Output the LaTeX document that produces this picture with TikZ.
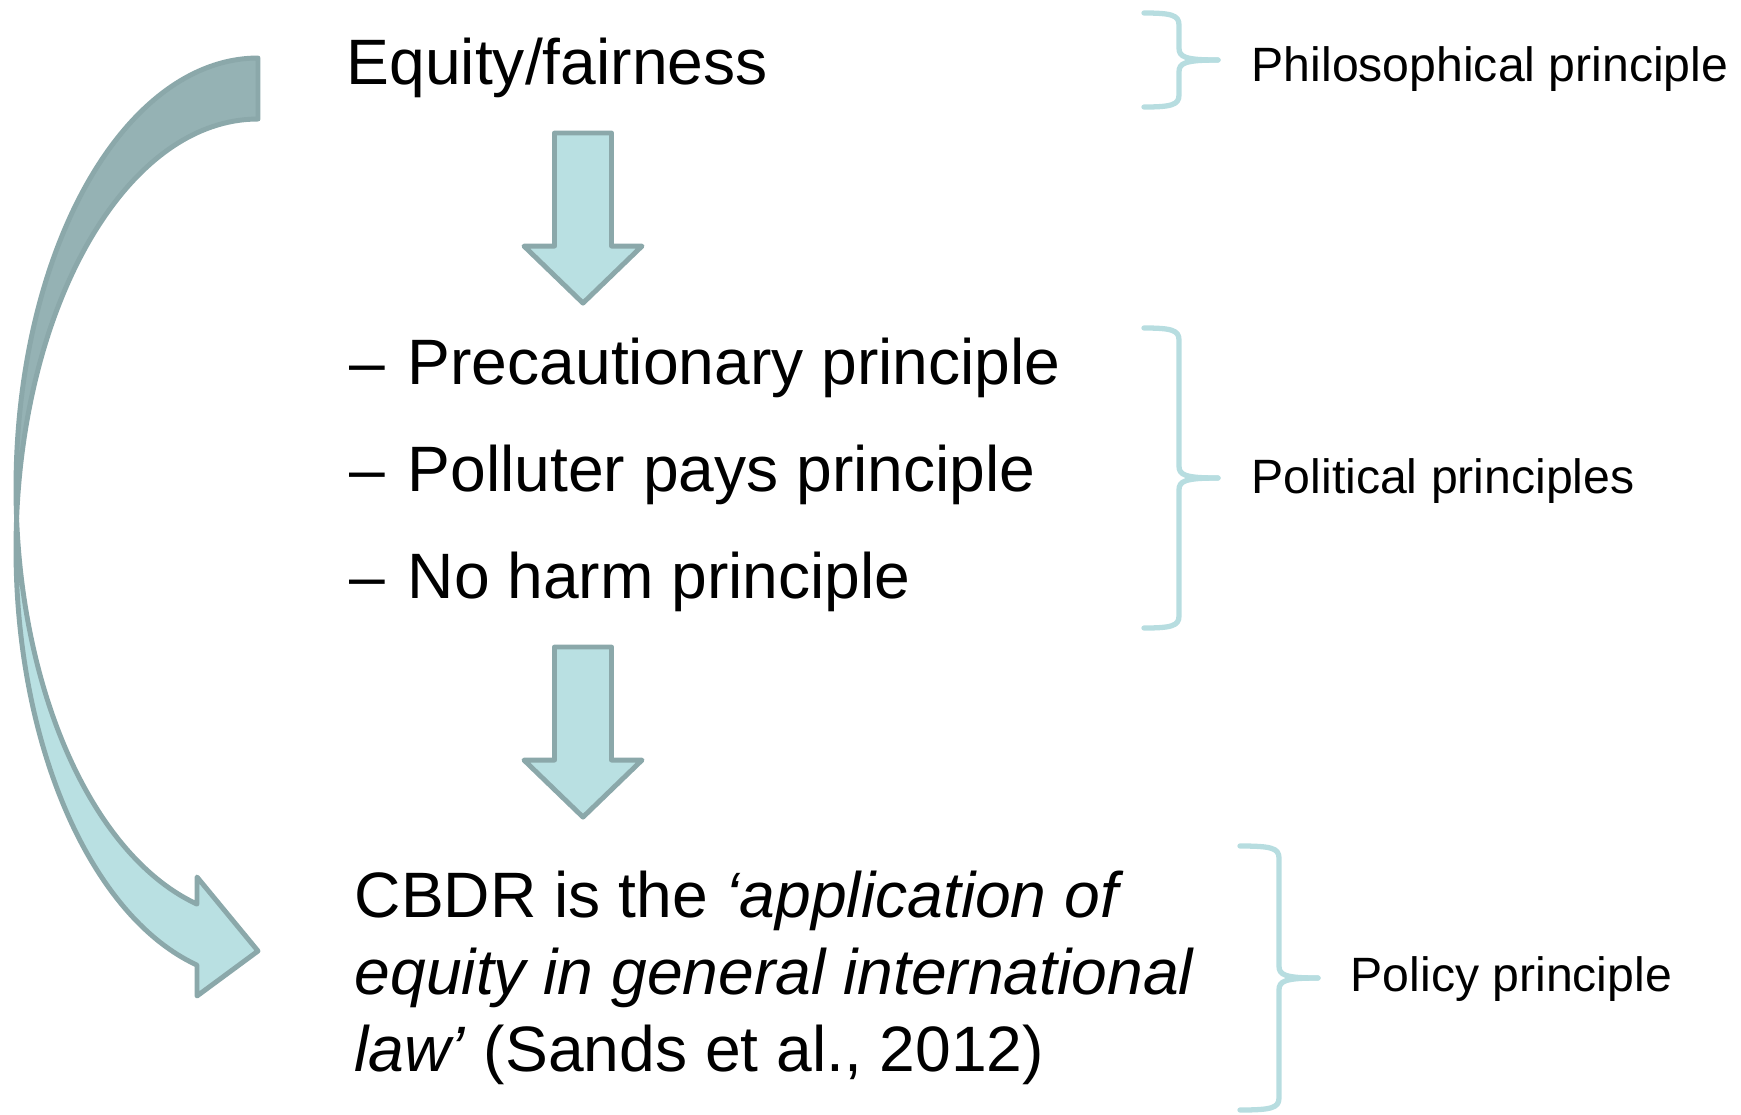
\documentclass[tikz,border=0pt]{standalone}
\usepackage{fontspec}
\setmainfont{Liberation Sans}
\definecolor{arrowfill}{HTML}{B9E0E2}
\definecolor{arrowline}{HTML}{8BA8AA}
\definecolor{arrowback}{HTML}{95B2B4}
\definecolor{bracecol}{HTML}{B7DDE0}
\begin{document}
\begin{tikzpicture}[x=0.01cm,y=0.01cm,
  maintext/.style={inner sep=0pt, anchor=base west, font=\fontsize{18.25}{21.9}\selectfont},
  sidetext/.style={inner sep=0pt, anchor=base west, font=\fontsize{13.7}{16.4}\selectfont},
  blockarrow/.style={fill=arrowfill, draw=arrowline, line width=1.4pt, line join=round},
  backface/.style={fill=arrowback, draw=arrowline, line width=1.4pt, line join=round},
  bracepath/.style={draw=bracecol, line width=1.5pt, line cap=round, line join=round}]
\useasboundingbox (0,0) rectangle (1741,-1114);

% ---- main column text ----
\node[maintext] (equity) at (346,-84) {Equity/fairness};

\node[maintext] (d1) at (349,-384) {–};
\node[maintext] (prec) at (407,-384) {Precautionary principle};
\node[maintext] (d2) at (349,-491) {–};
\node[maintext] (poll) at (407,-491) {Polluter pays principle};
\node[maintext] (d3) at (349,-598) {–};
\node[maintext] (harm) at (407,-598) {No harm principle};

\node[maintext] (cbdr1) at (354,-917) {CBDR is the \textit{‘application of}};
\node[maintext] (cbdr2) at (354,-994) {\textit{equity in general international}};
\node[maintext] (cbdr3) at (354,-1071) {\textit{law’} (Sands et al., 2012)};

% ---- labels on the right ----
\node[sidetext] (philo) at (1251,-81) {Philosophical principle};
\node[sidetext] (polit) at (1251,-493) {Political principles};
\node[sidetext] (policy) at (1350,-991) {Policy principle};

% ---- braces: left end x, spine x, tip x, top y, bottom y ----
\newcommand{\sidebrace}[5]{%
  \pgfmathsetmacro{\bmid}{(#4+#5)/2}
  \draw[bracepath] (#1,#4) .. controls (#2-8,#4) and (#2,#4-2) .. (#2,#4-12)
    -- (#2,\bmid+12) .. controls (#2,\bmid+3) and (#2+6,\bmid) .. (#3,\bmid);
  \draw[bracepath] (#1,#5) .. controls (#2-8,#5) and (#2,#5+2) .. (#2,#5+12)
    -- (#2,\bmid-12) .. controls (#2,\bmid-3) and (#2+6,\bmid) .. (#3,\bmid);
}
\sidebrace{1144}{1179}{1218}{-13}{-107}
\sidebrace{1144}{1179}{1218}{-328}{-628}
\sidebrace{1240}{1279}{1318}{-846}{-1110}

% ---- straight block arrows pointing down ----
\coordinate (a1) at (583,-133);
\coordinate (a2) at (583,-647);
\foreach \c in {a1,a2}{
  \draw[blockarrow] ([xshift=-0.285cm]\c) -- ([xshift=0.285cm]\c)
    -- ([xshift=0.285cm,yshift=-1.13cm]\c) -- ([xshift=0.59cm,yshift=-1.13cm]\c)
    -- ([yshift=-1.70cm]\c) -- ([xshift=-0.59cm,yshift=-1.13cm]\c)
    -- ([xshift=-0.285cm,yshift=-1.13cm]\c) -- cycle;
}

% ---- curved arrow on the left: back face then front face ----
\coordinate (ctop) at (258,-58);
\coordinate (cross) at (16.61,-518.5);
\draw[backface] (ctop)
  arc[start angle=90, end angle=184.07, x radius=242, y radius=430]
  arc[start angle=175.93, end angle=90, x radius=242, y radius=430] -- cycle;
\draw[blockarrow] (cross)
  arc[start angle=175.93, end angle=255.4, x radius=242, y radius=430]
  -- (197,-996) -- (258,-951) -- (197,-877) -- (197,-904.1)
  arc[start angle=255.4, end angle=184.07, x radius=242, y radius=430] -- cycle;
\end{tikzpicture}
\end{document}
